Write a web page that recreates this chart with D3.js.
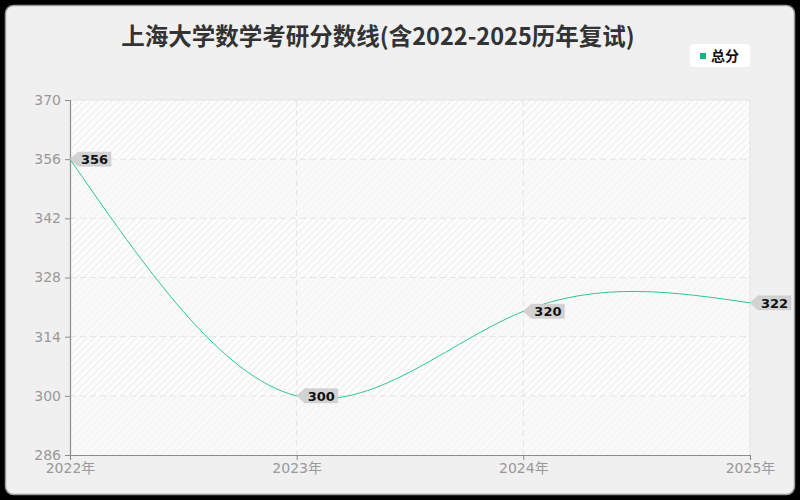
<!DOCTYPE html>
<html>
<head>
<meta charset="utf-8">
<script src="https://cdn.jsdelivr.net/npm/d3@7"></script>
<style>
  html, body { margin: 0; padding: 0; background: #000; }
  svg { display: block; font-family: "Noto Sans CJK SC", "Noto Sans", sans-serif; }
</style>
</head>
<body>
<div id="chart"></div>
<script>
const years = ["2022年", "2023年", "2024年", "2025年"];
const scores = [356, 300, 320, 322];
const yTicks = [286, 300, 314, 328, 342, 356, 370];
const seriesName = "总分";
const title = "上海大学数学考研分数线(含2022-2025历年复试)";

const width = 800, height = 500;
const margin = { top: 100, right: 50, bottom: 45, left: 70 };
const lineColor = "#2ec49c";

const svg = d3.select("#chart")
    .append("svg")
    .attr("width", width)
    .attr("height", height);

// card
svg.append("rect")
    .attr("x", 5.5).attr("y", 5.5)
    .attr("width", width - 11).attr("height", height - 11)
    .attr("rx", 8)
    .attr("fill", "#f0f0f0")
    .attr("stroke", "#9a9a9a")
    .attr("stroke-width", 1.5);

const defs = svg.append("defs");
function makeHatch(id, bg, fg) {
    const p = defs.append("pattern")
        .attr("id", id)
        .attr("patternUnits", "userSpaceOnUse")
        .attr("width", 5).attr("height", 5)
        .attr("patternTransform", "rotate(45)");
    p.append("rect").attr("width", 5).attr("height", 5).attr("fill", bg);
    p.append("line").attr("x1", 0).attr("y1", 0).attr("x2", 0).attr("y2", 5)
        .attr("stroke", fg).attr("stroke-width", 2);
}
makeHatch("hatch", "#fcfcfc", "#eeeeee");
makeHatch("hatch2", "#f9f9f9", "#f3f3f3");

const x = d3.scalePoint()
    .domain(years)
    .range([margin.left, width - margin.right]);

const y = d3.scaleLinear()
    .domain([286, 370])
    .range([height - margin.bottom, margin.top]);

// background bands
const bands = d3.pairs(yTicks);
svg.append("g")
    .selectAll("rect")
    .data(bands)
    .enter()
    .append("rect")
    .attr("x", margin.left)
    .attr("width", width - margin.right - margin.left)
    .attr("y", (d) => y(d[1]))
    .attr("height", (d) => y(d[0]) - y(d[1]))
    .attr("fill", (d, i) => (bands.length - 1 - i) % 2 === 0 ? "url(#hatch)" : "url(#hatch2)");

// plot border (top / right)
svg.append("path")
    .attr("d", `M${margin.left},${margin.top}H${width - margin.right}V${height - margin.bottom}`)
    .attr("fill", "none")
    .attr("stroke", "#e2e2e2");

// grid
svg.append("g")
    .selectAll("line")
    .data(yTicks.slice(1, -1))
    .enter()
    .append("line")
    .attr("x1", margin.left).attr("x2", width - margin.right)
    .attr("y1", (d) => y(d)).attr("y2", (d) => y(d))
    .attr("stroke", "#e4e4e4")
    .attr("stroke-dasharray", "6,4");

svg.append("g")
    .selectAll("line")
    .data(years.slice(1, -1))
    .enter()
    .append("line")
    .attr("x1", (d) => x(d)).attr("x2", (d) => x(d))
    .attr("y1", margin.top).attr("y2", height - margin.bottom)
    .attr("stroke", "#e4e4e4")
    .attr("stroke-dasharray", "6,4");

// axes
const yAxis = svg.append("g")
    .attr("transform", `translate(${margin.left},0)`)
    .call(d3.axisLeft(y).tickValues(yTicks).tickSize(5).tickPadding(4));

const xAxis = svg.append("g")
    .attr("transform", `translate(0,${height - margin.bottom})`)
    .call(d3.axisBottom(x).tickSize(5).tickPadding(3));

[yAxis, xAxis].forEach((a) => {
    a.select(".domain").attr("stroke", "#8c8c8c").attr("stroke-width", 1.2);
    a.selectAll(".tick line").attr("stroke", "#8c8c8c");
    a.selectAll("text")
        .attr("fill", "#999")
        .style("font-size", "14px")
        .style("font-family", "'DejaVu Sans', 'Noto Sans CJK SC', sans-serif");
});

// line
const pts = years.map((yr, i) => [x(yr), y(scores[i])]);
svg.append("path")
    .attr("d", d3.line().curve(d3.curveNatural)(pts))
    .attr("fill", "none")
    .attr("stroke", lineColor)
    .attr("stroke-width", 1);

// value labels
const label = svg.append("g")
    .selectAll("g")
    .data(pts)
    .enter()
    .append("g")
    .attr("transform", (d) => `translate(${d[0]},${d[1]})`);

label.append("path")
    .attr("d", "M0,0L8,-7H41V7H8Z")
    .attr("fill", "#d2d2d2")
    .attr("stroke", "#c4c4c4")
    .attr("stroke-width", 0.5);

label.append("text")
    .attr("x", 11)
    .attr("y", 5)
    .attr("fill", "#111")
    .style("font-size", "13px")
    .style("font-weight", "bold")
    .style("font-family", "'DejaVu Sans', sans-serif")
    .text((d, i) => scores[i]);

// title
svg.append("text")
    .attr("x", 378)
    .attr("y", 45)
    .attr("text-anchor", "middle")
    .attr("fill", "#333")
    .style("font-size", "23.5px")
    .style("font-weight", "bold")
    .text(title);

// legend
const legend = svg.append("g").attr("transform", "translate(690,44)");
legend.append("rect")
    .attr("width", 60).attr("height", 23)
    .attr("rx", 4)
    .attr("fill", "#fff");
legend.append("rect")
    .attr("x", 10).attr("y", 9)
    .attr("width", 6).attr("height", 6)
    .attr("fill", "#14b47c");
legend.append("text")
    .attr("x", 21).attr("y", 17)
    .attr("fill", "#111")
    .style("font-size", "14px")
    .style("font-weight", "bold")
    .text(seriesName);
</script>
</body>
</html>
